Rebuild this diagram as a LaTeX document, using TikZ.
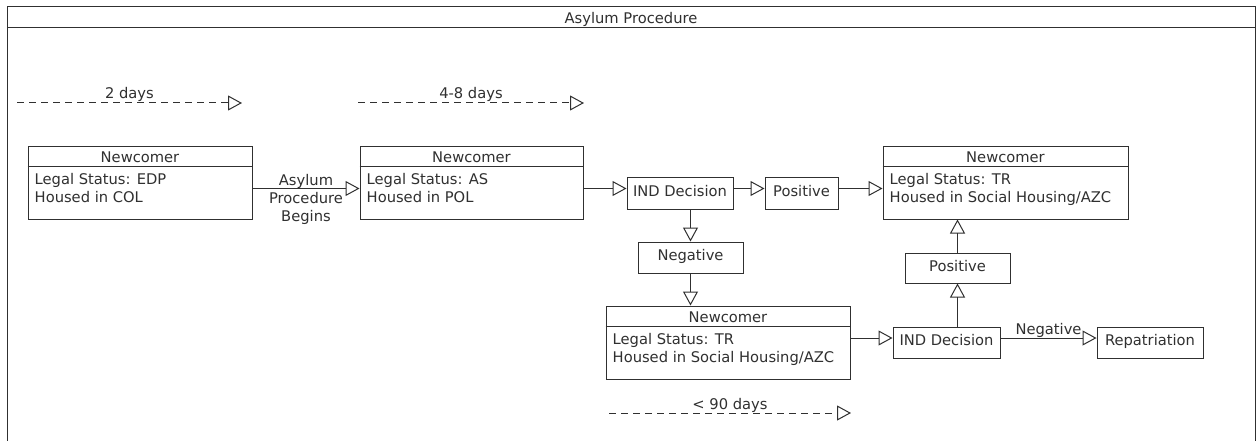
\documentclass[tikz,border=0pt]{standalone}
\usepackage{fontspec}
\setmainfont{DejaVu Sans}
\usetikzlibrary{arrows.meta,calc}
\definecolor{ink}{HTML}{303030}

% A "Newcomer" record: name, centre, width, first and second body line
\newcommand\newcomerbox[5]{%
  \node[newcomer, minimum width=#3] (#1) at (#2) {};
  \draw[ink, line width=1pt] ($(#1.north west)+(0,21)$) -- ($(#1.north east)+(0,21)$);
  \node[txt, anchor=base] (#1-head) at ($(#1.north)+(0,17)$) {Newcomer};
  \node[txt, anchor=base west] (#1-l1) at ($(#1.north west)+(7,39)$) {#4};
  \node[txt, anchor=base west] (#1-l2) at ($(#1.north west)+(7,57)$) {#5};
}

\begin{document}
\begin{tikzpicture}[x=1pt, y=-1pt,
  every node/.style={font=\fontsize{14.7}{18}\selectfont, text=ink},
  txt/.style={inner sep=0pt},
  stepbox/.style={draw=ink, line width=1pt, rectangle, inner sep=0pt,
                  text height=10pt, text depth=4pt},
  newcomer/.style={draw=ink, line width=1pt, rectangle, inner sep=0pt, minimum height=73pt},
  arr/.style={draw=ink, line width=1pt, -{Triangle[open, length=14pt, width=15pt]}},
  span/.style={arr, dash pattern=on 7pt off 5pt}
]
\useasboundingbox (0,0) rectangle (1260,441);
\clip (0,0) rectangle (1260,441);
\fill[white] (0,0) rectangle (1260,441);

% frame with title bar
\draw[ink, line width=1pt] (7,7) rectangle (1255,460);
\draw[ink, line width=1pt] (7,28) -- (1255,28);
\node[txt, anchor=base] (title) at (631,24) {Asylum Procedure};

% duration markers
\coordinate (d1s) at (17,103);  \coordinate (d1e) at (242,103);
\coordinate (d2s) at (358,103); \coordinate (d2e) at (584,103);
\coordinate (d3s) at (609,413); \coordinate (d3e) at (851,413);
\draw[span] (d1s) -- node[txt, anchor=base, yshift=4pt] (t1) {2 days} (d1e);
\draw[span] (d2s) -- node[txt, anchor=base, yshift=4pt] (t2) {4-8 days} (d2e);
\draw[span] (d3s) -- node[txt, anchor=base, yshift=4pt] (t3) {< 90 days} (d3e);

% records
\newcomerbox{col}{140,182.5}{224pt}{Legal Status: EDP}{Housed in COL}
\newcomerbox{pol}{471.5,182.5}{223pt}{Legal Status: AS}{Housed in POL}
\newcomerbox{trA}{1005.5,182.5}{245pt}{Legal Status: TR}{Housed in Social Housing/AZC}
\newcomerbox{trB}{728,342.5}{244pt}{Legal Status: TR}{Housed in Social Housing/AZC}

% decisions and outcomes
\node[stepbox, minimum width=106pt, minimum height=32pt] (ind1) at (680,193) {IND Decision};
\node[stepbox, minimum width=73pt,  minimum height=32pt] (pos1) at (801.5,193) {Positive};
\node[stepbox, minimum width=105pt, minimum height=31pt] (neg1) at (690.5,257.5) {Negative};
\node[stepbox, minimum width=105pt, minimum height=30pt] (pos2) at (957.5,268) {Positive};
\node[stepbox, minimum width=107pt, minimum height=31pt] (ind2) at (946.5,342.5) {IND Decision};
\node[stepbox, minimum width=106pt, minimum height=31pt] (rep)  at (1150,342.5) {Repatriation};

% flow
\draw[arr] ([yshift=-6pt]col.east) --
  node[txt, align=center, yshift=-10.5pt] (begins) {Asylum\\Procedure\\Begins}
  ([yshift=-6pt]pol.west);
\draw[arr] ([yshift=-6pt]pol.east) -- ([yshift=4.5pt]ind1.west);
\draw[arr] ([yshift=4.5pt]ind1.east) -- ([yshift=4.5pt]pos1.west);
\draw[arr] ([yshift=4.5pt]pos1.east) -- ([yshift=-6pt]trA.west);
\draw[arr] (ind1.south -| neg1.north) -- (neg1.north);
\draw[arr] (neg1.south) -- (neg1.south |- trB.north);
\draw[arr] ([yshift=4.5pt]trB.east) -- ([yshift=4.5pt]ind2.west);
\draw[arr] (ind2.north -| pos2.south) -- (pos2.south);
\draw[arr] (pos2.north) -- (pos2.north |- trA.south);
\draw[arr] ([yshift=4.5pt]ind2.east) --
  node[txt, anchor=base, yshift=4pt] (negB) {Negative}
  ([yshift=4.5pt]rep.west);
\end{tikzpicture}
\end{document}
